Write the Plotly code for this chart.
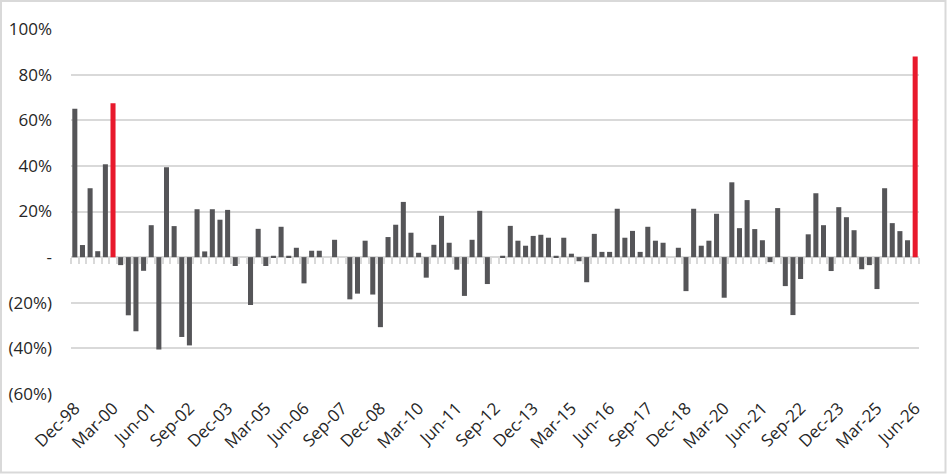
import plotly.graph_objects as go

# quarterly % change, Dec-98 .. Jun-26
months = ["Mar", "Jun", "Sep", "Dec"]
quarters = ["Dec-98"]
for yr in range(1999, 2027):
    for m in months:
        quarters.append(f"{m}-{str(yr)[2:]}")
quarters = quarters[: quarters.index("Jun-26") + 1]

values = [
    65, 5.3, 30.2, 2.6, 40.7, 67.4, -3.5, -25.5, -32.5, -6,
    14, -40.5, 39.4, 13.6, -35, -38.7, 21, 2.5, 21, 16.4,
    20.7, -3.9, 0, -21, 12.4, -3.9, 0.6, 13.3, 0.6, 4.1,
    -11.5, 2.8, 2.8, 0, 7.6, 0, -18.5, -16, 7.2, -16.4,
    -30.7, 8.8, 14.2, 24.2, 10.7, 1.9, -9, 5.4, 18.1, 6.3,
    -5.5, -17, 7.6, 20.3, -11.8, 0, 0.6, 13.7, 7.2, 5,
    9.3, 9.8, 8.5, 0.6, 8.5, 1.5, -1.8, -11, 10.2, 2.3,
    2.3, 21.2, 8.5, 11.5, 2.3, 13.3, 7.2, 6.3, 0, 4.1,
    -14.9, 21.2, 5, 7.2, 19, -17.8, 32.8, 12.7, 25, 12.3,
    7.4, -2.2, 21.5, -12.7, -25.4, -9.6, 10, 28, 14, -6.1,
    21.9, 17.5, 11.8, -5.3, -3.5, -14, 30.2, 14.9, 11.4, 7.4,
    88,
]

highlight = ["Mar-00", "Jun-26"]

x_labels = quarters[::5]
y_ticks = [100, 80, 60, 40, 20, 0, -20, -40, -60]
y_labels = ["100%", "80%", "60%", "40%", "20%", "-", "(20%)", "(40%)", "(60%)"]

GREY = "#555558"
RED = "#e8192c"
LIGHT = "#d9d9d9"

xs = list(range(len(quarters)))
colors = [RED if q in highlight else GREY for q in quarters]

fig = go.Figure()
fig.add_trace(
    go.Bar(
        x=xs,
        y=values,
        marker_color=colors,
        marker_line_width=0,
        customdata=quarters,
        hovertemplate="%{customdata}: %{y:.1f}%<extra></extra>",
    )
)
# dummy trace so the zero-line tick axis gets drawn
fig.add_trace(
    go.Scatter(x=xs, y=[None] * len(xs), xaxis="x2", showlegend=False, hoverinfo="skip")
)

fig.update_layout(
    width=947,
    height=474,
    plot_bgcolor="white",
    paper_bgcolor="white",
    showlegend=False,
    bargap=0.34,
    margin=dict(l=71, r=28, t=29, b=80),
    font=dict(family="Open Sans", size=17, color="#262626"),
    xaxis=dict(
        range=[-0.5, len(xs) - 0.5],
        tickmode="array",
        tickvals=[quarters.index(q) for q in x_labels],
        ticktext=x_labels,
        tickangle=-45,
        showgrid=False,
        showline=False,
        zeroline=False,
        ticks="",
        automargin=False,
    ),
    xaxis2=dict(
        overlaying="x",
        matches="x",
        anchor="free",
        position=60 / 160,
        side="bottom",
        tickmode="array",
        tickvals=[i - 0.5 for i in xs] + [len(xs) - 0.5],
        ticks="outside",
        ticklen=6,
        tickwidth=2,
        tickcolor=LIGHT,
        showticklabels=False,
        showgrid=False,
        showline=False,
        zeroline=False,
        automargin=False,
    ),
    yaxis=dict(
        range=[-60, 100],
        tickmode="array",
        tickvals=y_ticks,
        ticktext=y_labels,
        showgrid=True,
        gridcolor=LIGHT,
        gridwidth=1.5,
        zeroline=True,
        zerolinecolor=LIGHT,
        zerolinewidth=2,
        ticks="",
        ticklabelstandoff=18,
        automargin=False,
    ),
)

# light grey frame around the whole chart
fig.add_shape(
    type="rect",
    xref="paper",
    yref="paper",
    x0=-70 / 848,
    x1=(945.5 - 71) / 848,
    y0=(394 - 472.5) / 365,
    y1=(394 - 1) / 365,
    line=dict(color=LIGHT, width=2),
    layer="below",
)

# drop the browser's default body margin so the chart sits at the page corner
fig.write_html(
    "out.html",
    config={"displayModeBar": False},
    post_script="document.body.style.margin = '0';",
)
